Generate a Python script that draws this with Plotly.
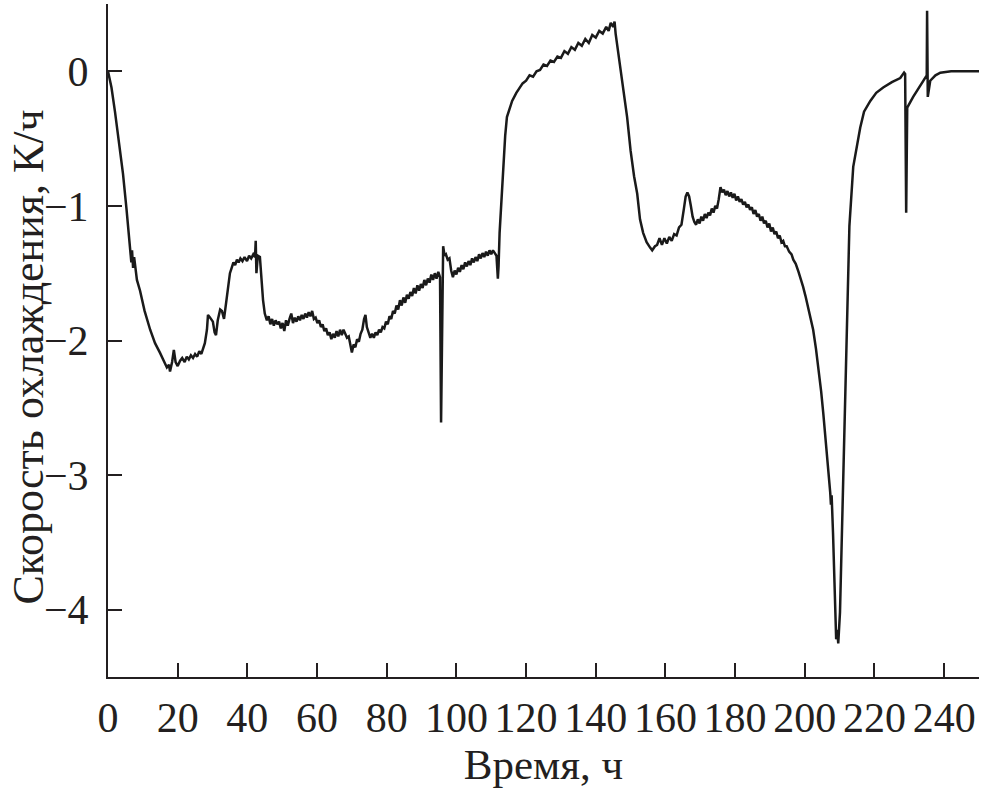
import plotly.graph_objects as go

# Segment 1: initial drop and first plateau (0-44 h)
t1 = [0, 1, 2, 3, 4.3, 5.3, 6.3, 6.7, 6.9, 7.2, 7.5, 8.3, 9.2, 10.5, 12.1, 13.5, 14.9, 16.0, 16.9, 17.5,
      17.8, 18.4, 18.9, 19.4, 20.0, 20.7, 21.3, 22.0, 22.6, 23.2, 23.8, 24.4, 25.0, 25.6, 26.2, 26.8, 27.3,
      27.8, 28.4, 28.7, 29.3, 30.1, 30.6, 31.0, 31.5, 32.2, 32.7, 33.3, 34.0, 35.0, 35.5, 36.0, 36.5, 37.0,
      37.5, 38.0, 38.6, 39.2, 39.9, 40.5, 41.1, 41.7, 42.2, 42.4, 42.6, 43.0, 43.6]
v1 = [0, -0.12, -0.30, -0.50, -0.76, -1.02, -1.31, -1.42, -1.33, -1.46, -1.38, -1.55, -1.63, -1.78, -1.92,
      -2.02, -2.09, -2.15, -2.20, -2.18, -2.23, -2.16, -2.07, -2.16, -2.19, -2.15, -2.13, -2.16, -2.12, -2.14,
      -2.11, -2.13, -2.10, -2.12, -2.08, -2.10, -2.06, -2.02, -1.92, -1.81, -1.83, -1.86, -1.94, -1.96, -1.85,
      -1.77, -1.78, -1.84, -1.70, -1.50, -1.46, -1.42, -1.44, -1.40, -1.42, -1.39, -1.41, -1.38, -1.41, -1.37,
      -1.39, -1.36, -1.38, -1.26, -1.50, -1.37, -1.38]

# Segment 2: slow recovery with the spike near 96 h (44-112 h)
t2 = [44.5, 45.0, 45.6, 46.1, 46.6, 47.1, 47.6, 48.1, 48.6, 49.1, 49.6, 50.1, 50.6, 51.1, 51.6, 52.1, 52.6,
      53.1, 53.6, 54.1, 54.6, 55.1, 55.6, 56.1, 56.6, 57.1, 57.6, 58.1, 58.6, 59.1, 59.6, 60.1, 60.6, 61.1,
      61.6, 62.1, 62.6, 63.1, 63.6, 64.1, 64.6, 65.1, 65.6, 66.1, 66.6, 67.1, 67.6, 68.1, 68.6, 69.1, 69.6,
      70.0, 70.5, 71.0, 71.5, 72.0, 72.5, 73.0, 73.5, 73.9, 74.3, 74.8, 75.3, 75.8, 76.3, 76.8, 77.3, 77.8,
      78.3, 78.8, 79.3, 79.8, 80.3, 80.8, 81.3, 81.8, 82.3, 82.8, 83.3, 83.8, 84.3, 84.8, 85.3, 85.8, 86.3,
      86.8, 87.3, 87.8, 88.3, 88.8, 89.3, 89.8, 90.3, 90.8, 91.3, 91.8, 92.3, 92.8, 93.3, 93.8, 94.3, 94.8,
      95.3, 95.6, 95.9, 96.2, 96.6, 97.0, 97.5, 98.0, 98.5, 99.0, 99.5, 100.0, 100.5, 101.0, 101.5, 102.0,
      102.5, 103.0, 103.5, 104.0, 104.5, 105.0, 105.5, 106.0, 106.5, 107.0, 107.5, 108.0, 108.5, 109.0,
      109.5, 110.0, 110.5, 111.0, 111.5, 111.9, 112.1]
v2 = [-1.70, -1.80, -1.85, -1.82, -1.88, -1.84, -1.89, -1.85, -1.88, -1.86, -1.91, -1.87, -1.93, -1.85,
      -1.89, -1.84, -1.80, -1.87, -1.83, -1.86, -1.82, -1.85, -1.81, -1.84, -1.80, -1.83, -1.79, -1.82, -1.78,
      -1.84, -1.83, -1.87, -1.85, -1.90, -1.88, -1.93, -1.91, -1.96, -1.94, -1.99, -1.95, -1.98, -1.93, -1.97,
      -1.92, -1.96, -1.92, -1.95, -1.98, -1.97, -2.04, -2.09, -2.03, -2.05, -1.99, -2.01, -1.95, -1.92, -1.84,
      -1.81, -1.90, -1.94, -1.98, -1.95, -1.98, -1.94, -1.96, -1.92, -1.94, -1.90, -1.91, -1.86, -1.88, -1.82,
      -1.84, -1.78, -1.80, -1.74, -1.77, -1.70, -1.74, -1.68, -1.72, -1.66, -1.69, -1.64, -1.67, -1.61, -1.65,
      -1.59, -1.63, -1.58, -1.61, -1.55, -1.59, -1.54, -1.57, -1.51, -1.55, -1.50, -1.54, -1.49, -1.53, -2.61,
      -1.70, -1.30, -1.37, -1.36, -1.40, -1.39, -1.48, -1.53, -1.48, -1.51, -1.46, -1.49, -1.44, -1.47, -1.42,
      -1.45, -1.41, -1.44, -1.39, -1.42, -1.38, -1.41, -1.36, -1.39, -1.35, -1.38, -1.34, -1.37, -1.33, -1.36,
      -1.33, -1.35, -1.37, -1.54, -1.45]

# Segment 3: jump to positive values and drop (112-158 h)
t3 = [112.4, 112.7, 113.4, 114.0, 114.5, 116.0, 117.2, 118.3, 119, 120, 121, 122, 123, 124, 125, 126, 127,
      128, 129, 130, 131, 132, 133, 134, 135, 136, 137, 138, 139, 140, 141, 142, 143, 143.7, 144.3, 145.0,
      145.4, 145.7, 147.0, 149.0, 150.0, 151.0, 151.9, 152.7, 153.6, 154.6, 155.6, 156.2, 157.0]
v3 = [-1.20, -1.05, -0.71, -0.48, -0.34, -0.22, -0.16, -0.12, -0.09, -0.07, -0.03, -0.04, 0.00, 0.01, 0.05,
      0.04, 0.08, 0.07, 0.11, 0.10, 0.15, 0.13, 0.18, 0.16, 0.21, 0.19, 0.24, 0.21, 0.27, 0.25, 0.30, 0.28,
      0.33, 0.30, 0.36, 0.33, 0.37, 0.28, 0.02, -0.34, -0.59, -0.78, -0.91, -1.10, -1.20, -1.27, -1.31, -1.33,
      -1.30]

# Segment 4: bumps and deep minimum (158-213 h)
t4 = [157.6, 158.3, 159.0, 159.7, 160.4, 161.1, 161.8, 162.5, 163.2, 163.9, 164.6, 165.3, 165.8, 166.3,
      166.8, 167.3, 167.8, 168.3, 168.8, 169.3, 169.8, 170.3, 170.8, 171.3, 171.8, 172.3, 172.8, 173.3,
      173.8, 174.3, 174.8, 175.3, 175.8, 176.3, 176.8, 177.3, 177.8, 178.3, 178.8, 179.3, 179.8, 180.3,
      180.8, 181.3, 181.8, 182.3, 182.8, 183.3, 183.8, 184.3, 184.8, 185.3, 185.8, 186.3, 186.8, 187.3,
      187.8, 188.3, 188.8, 189.3, 189.8, 190.3, 190.8, 191.3, 191.8, 192.3, 192.8, 193.3, 193.8, 194.3,
      194.8, 195.5, 196.2, 196.7, 197.4, 198.2, 199.0, 199.5, 200.2, 201.0, 201.7, 202.4, 203.2, 204.0,
      204.7, 205.3, 205.9, 206.4, 206.9, 207.3, 207.5, 207.7, 208.1, 208.4, 208.7, 209.0, 209.3, 209.6,
      210.1, 210.4, 210.7, 211.2, 211.6, 212.2, 212.8]
v4 = [-1.29, -1.24, -1.29, -1.24, -1.28, -1.23, -1.26, -1.21, -1.22, -1.16, -1.14, -1.02, -0.93, -0.90,
      -0.93, -1.00, -1.08, -1.12, -1.14, -1.10, -1.13, -1.08, -1.11, -1.06, -1.09, -1.05, -1.07, -1.02, -1.05,
      -1.00, -1.02, -0.95, -0.86, -0.90, -0.88, -0.92, -0.89, -0.93, -0.90, -0.94, -0.91, -0.96, -0.93, -0.97,
      -0.95, -0.99, -0.97, -1.01, -0.99, -1.03, -1.01, -1.06, -1.03, -1.08, -1.06, -1.11, -1.08, -1.13, -1.11,
      -1.16, -1.13, -1.19, -1.16, -1.21, -1.19, -1.24, -1.22, -1.27, -1.26, -1.30, -1.30, -1.34, -1.36, -1.40,
      -1.43, -1.49, -1.55, -1.60, -1.67, -1.76, -1.84, -1.92, -2.06, -2.22, -2.38, -2.54, -2.70, -2.85, -3.00,
      -3.13, -3.22, -3.15, -3.43, -3.70, -4.02, -4.22, -4.15, -4.25, -4.02, -3.70, -3.28, -2.70, -2.29, -1.70,
      -1.15]

# Segment 5: recovery and two spikes (213-250 h)
t5 = [213.9, 215.0, 215.9, 217.0, 218.8, 220.5, 222.5, 225.0, 227.4, 228.5, 228.8, 229.1, 229.4, 231.1,
      233.0, 234.5, 235.0, 235.1, 235.3, 236.0, 237.5, 238.9, 242.0, 246.0, 250.0]
v5 = [-0.71, -0.54, -0.42, -0.30, -0.22, -0.16, -0.12, -0.08, -0.05, -0.01, -0.02, -1.05, -0.27, -0.19,
      -0.11, -0.05, -0.03, 0.45, -0.19, -0.07, -0.03, -0.01, 0.00, 0.00, 0.00]

time_h = t1 + t2 + t3 + t4 + t5
cooling_rate = v1 + v2 + v3 + v4 + v5

x_ticks = [0, 20, 40, 60, 80, 100, 120, 140, 160, 180, 200, 220, 240]
y_ticks = [0, -1, -2, -3, -4]
x_title = "Время, ч"
y_title = "Скорость охлаждения, К/ч"

fig = go.Figure()
fig.add_trace(go.Scatter(x=time_h, y=cooling_rate, mode="lines",
                         line=dict(color="#1a1a1a", width=2.5), showlegend=False))

font_family = "Liberation Serif, Times New Roman, serif"
ink = "#231f20"
axis_common = dict(showline=True, linecolor=ink, linewidth=2, ticks="inside", ticklen=14,
                   tickwidth=2, tickcolor=ink, showgrid=False, zeroline=False, automargin=False,
                   tickfont=dict(family=font_family, size=42, color=ink))

fig.update_xaxes(range=[0, 250], tickvals=x_ticks, ticktext=[str(v) for v in x_ticks],
                 title=dict(text=x_title, font=dict(family=font_family, size=43, color=ink),
                            standoff=2),
                 ticklabelstandoff=3, **axis_common)
fig.update_yaxes(range=[-4.5, 0.5], tickvals=y_ticks,
                 ticktext=["0" if v == 0 else "\u2212" + str(abs(v)) for v in y_ticks],
                 ticklabelstandoff=9, **axis_common)

fig.add_annotation(text=y_title, xref="paper", yref="paper", x=0, y=0.5, xanchor="center",
                   yanchor="middle", xshift=-80, yshift=-17, textangle=-90, showarrow=False,
                   font=dict(family=font_family, size=44, color=ink))

fig.update_layout(width=989, height=788, margin=dict(l=108, r=10, t=4, b=111),
                  plot_bgcolor="white", paper_bgcolor="white", font=dict(family=font_family))

fig.write_html("out.html", post_script="document.body.style.margin='0';",
               config={"displayModeBar": False})
